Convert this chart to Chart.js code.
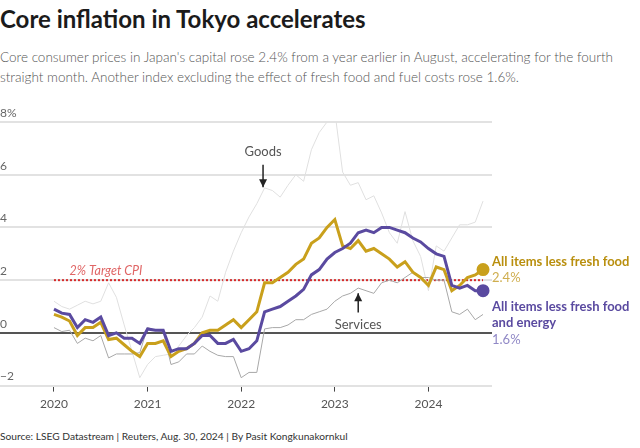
<!DOCTYPE html>
<html>
<head>
<meta charset="utf-8">
<script src="https://cdn.jsdelivr.net/npm/chart.js@4.4.1/dist/chart.umd.min.js"></script>
<style>
  body { margin: 0; width: 640px; height: 448px; background: #fff; position: relative; overflow: hidden; font-family: Lato, sans-serif; }
  h1 { position: absolute; left: 0; top: 4px; margin: 0; font-size: 24px; font-weight: 700; color: #1b1b1b; }
  .sub { position: absolute; left: 0; top: 47px; margin: 0; font-size: 13.5px; line-height: 20px; color: #555; font-weight: 300; white-space: nowrap; }
  .src { position: absolute; left: 0; top: 430px; font-size: 10.2px; color: #333; }
  canvas { position: absolute; left: 0; top: 100px; }
</style>
</head>
<body>
<h1>Core inflation in Tokyo accelerates</h1>
<p class="sub">Core consumer prices in Japan's capital rose 2.4% from a year earlier in August, accelerating for the fourth<br>straight month. Another index excluding the effect of fresh food and fuel costs rose 1.6%.</p>
<div class="src">Source: LSEG Datastream | Reuters, Aug. 30, 2024 | By Pasit Kongkunakornkul</div>
<canvas id="chart" width="640" height="320"></canvas>
<script>
// monthly, Jan 2020 .. Aug 2024 (index 0 = Jan 2020)
const yearTicks = [2020, 2021, 2022, 2023, 2024];
const yTicks = [-2, 0, 2, 4, 6, 8];

const lessFresh = [
  0.7, 0.6, 0.45, -0.1, 0.2, 0.2, 0.4, -0.25, -0.2, -0.45, -0.7, -0.9,
  -0.4, -0.4, -0.3, -0.9, -0.7, -0.6, -0.4, 0.0, 0.1, 0.1, 0.3, 0.5,
  0.2, 0.5, 0.8, 1.9, 1.9, 2.1, 2.3, 2.6, 2.8, 3.4, 3.6, 4.0,
  4.3, 3.3, 3.2, 3.5, 3.1, 3.2, 3.0, 2.8, 2.5, 2.7, 2.3, 2.1,
  1.8, 2.5, 2.4, 1.6, 1.8, 2.1, 2.2, 2.4
];
const lessFreshEnergy = [
  0.9, 0.75, 0.7, 0.2, 0.5, 0.4, 0.6, -0.1, 0.0, -0.2, -0.2, -0.4,
  0.15, 0.1, 0.1, -0.7, -0.6, -0.6, -0.4, -0.1, -0.1, -0.4, -0.4, -0.25,
  -0.7, -0.6, -0.3, 0.8, 0.9, 1.0, 1.2, 1.4, 1.65, 2.2, 2.4, 2.8,
  3.05, 3.2, 3.4, 3.8, 3.9, 3.8, 4.0, 4.0, 3.9, 3.8, 3.6, 3.45,
  3.2, 3.0, 2.9, 1.8, 1.7, 1.8, 1.6, 1.6
];
const services = [
  0.2, 0.05, 0.1, -0.4, -0.2, -0.3, -0.1, -0.95, -0.8, -0.8, -0.8, -0.75,
  0.2, 0.1, 0.05, -1.2, -1.1, -0.8, -0.8, -0.5, -0.7, -0.85, -0.9, -0.9,
  -1.7, -1.5, -1.5, 0.15, 0.2, 0.2, 0.3, 0.5, 0.5, 0.7, 0.8, 0.9,
  1.2, 1.4, 1.5, 1.7, 1.6, 1.5, 1.9, 2.0, 1.9, 2.1, 2.3, 2.1,
  2.1, 2.0, 2.0, 0.8, 0.7, 0.9, 0.5, 0.7
];
const goods = [
  1.2, 1.0, 0.9, 1.05, 1.2, 1.1, 1.2, 1.9, 1.35, 0.3, -0.7, -1.7,
  -1.2, -0.9, -0.85, -0.8, -0.5, -0.1, 0.2, 0.6, 1.4, 1.2, 2.3, 3.1,
  3.8, 4.4, 4.9, 5.5, 5.4, 5.15, 5.6, 6.0, 5.75, 6.95, 7.6, 8.0,
  8.4, 6.1, 5.6, 5.7, 5.05, 5.2, 4.55, 3.8, 3.4, 4.6, 3.5, 2.9,
  1.6, 3.3, 3.1, 3.6, 4.1, 4.1, 4.2, 5.0
];

const GOLD = '#c9a01c', PURPLE = '#5a4aa0';
const last = lessFresh.length - 1;
const pts = arr => arr.map((v, i) => ({x: i, y: v}));
const endDot = ctx => ctx.dataIndex === last ? 5 : 0;

// notes, arrows, target line and the end labels
const annotate = {
  id: 'annotate',
  beforeDatasetsDraw(chart) {
    const {ctx, scales: {x, y}} = chart;
    ctx.save();
    ctx.strokeStyle = '#d62a2a';
    ctx.lineWidth = 2;
    ctx.setLineDash([2, 2]);
    ctx.beginPath();
    ctx.moveTo(x.getPixelForValue(0), y.getPixelForValue(2));
    ctx.lineTo(x.getPixelForValue(last), y.getPixelForValue(2));
    ctx.stroke();
    ctx.setLineDash([]);
    ctx.font = 'italic 12.5px Lato';
    ctx.fillStyle = '#e06666';
    ctx.textBaseline = 'middle';
    ctx.fillText('2% Target CPI', x.getPixelForValue(2), y.getPixelForValue(2.35));
    ctx.restore();
  },
  afterDatasetsDraw(chart) {
    const {ctx, scales: {x, y}} = chart;
    ctx.save();
    const arrow = (px, y0, y1) => {
      ctx.strokeStyle = '#222';
      ctx.fillStyle = '#222';
      ctx.lineWidth = 1.5;
      ctx.beginPath();
      ctx.moveTo(px, y0);
      ctx.lineTo(px, y1);
      ctx.stroke();
      const d = y1 > y0 ? 1 : -1;
      ctx.beginPath();
      ctx.moveTo(px, y1);
      ctx.lineTo(px - 4, y1 - d * 8);
      ctx.lineTo(px + 4, y1 - d * 8);
      ctx.closePath();
      ctx.fill();
    };
    ctx.font = '13px Lato';
    ctx.textAlign = 'center';
    ctx.textBaseline = 'middle';
    const gx = x.getPixelForValue(26.8);
    ctx.fillStyle = '#555';
    ctx.fillText('Goods', gx, y.getPixelForValue(6.87));
    arrow(gx, y.getPixelForValue(6.38), y.getPixelForValue(5.52));
    const sx = x.getPixelForValue(39);
    ctx.fillStyle = '#555';
    ctx.fillText('Services', sx, y.getPixelForValue(0.29));
    arrow(sx, y.getPixelForValue(0.77), y.getPixelForValue(1.5));

    // end labels
    const lx = chart.chartArea.right;
    ctx.textAlign = 'left';
    const gy = y.getPixelForValue(lessFresh[last]);
    ctx.font = 'bold 13px Lato';
    ctx.fillStyle = '#b98f0e';
    ctx.fillText('All items less fresh food', lx, gy - 8);
    ctx.font = '13px Lato';
    ctx.fillStyle = '#cfae4f';
    ctx.fillText(lessFresh[last].toFixed(1) + '%', lx, gy + 8.5);
    const py = y.getPixelForValue(lessFreshEnergy[last]);
    ctx.font = 'bold 13px Lato';
    ctx.fillStyle = PURPLE;
    ctx.fillText('All items less fresh food', lx, py + 16);
    ctx.fillText('and energy', lx, py + 32.5);
    ctx.font = '13px Lato';
    ctx.fillStyle = '#9088c6';
    ctx.fillText(lessFreshEnergy[last].toFixed(1) + '%', lx, py + 49);
    ctx.restore();
  }
};

Chart.defaults.font.family = 'Lato';

new Chart(document.getElementById('chart'), {
  type: 'line',
  data: {
    datasets: [{
      label: 'All items less fresh food and energy',
      data: pts(lessFreshEnergy),
      borderColor: PURPLE,
      backgroundColor: PURPLE,
      borderWidth: 3,
      pointRadius: endDot,
      pointHoverRadius: 0,
      tension: 0
    }, {
      label: 'All items less fresh food',
      data: pts(lessFresh),
      borderColor: GOLD,
      backgroundColor: GOLD,
      borderWidth: 3,
      pointRadius: endDot,
      pointHoverRadius: 0,
      tension: 0
    }, {
      label: 'Services',
      data: pts(services),
      borderColor: '#a8a8a8',
      borderWidth: 1,
      pointRadius: 0,
      tension: 0
    }, {
      label: 'Goods',
      data: pts(goods),
      borderColor: '#e0e0e0',
      borderWidth: 1,
      pointRadius: 0,
      tension: 0
    }]
  },
  options: {
    responsive: false,
    animation: false,
    layout: { autoPadding: false, padding: { top: 22, right: 148, bottom: 4, left: 0 } },
    plugins: { legend: { display: false }, tooltip: { enabled: false } },
    scales: {
      x: {
        type: 'linear',
        min: -6.92,
        max: 56.15,
        afterBuildTicks: s => { s.ticks = yearTicks.map((yr, i) => ({ value: i * 12 })); },
        afterFit: s => { s.paddingLeft = 0; s.paddingRight = 0; },
        ticks: {
          autoSkip: false,
          maxRotation: 0,
          padding: 5,
          color: '#555',
          font: { size: 12 },
          callback: v => yearTicks[v / 12]
        },
        grid: { drawOnChartArea: false, tickLength: 6, tickColor: '#444', lineWidth: 1 },
        border: { display: false }
      },
      y: {
        min: -2,
        max: 8,
        afterBuildTicks: s => { s.ticks = yTicks.map(v => ({ value: v })); },
        afterFit: s => { s.width = 0; },
        ticks: {
          mirror: true,
          padding: 0,
          labelOffset: -9,
          color: '#666',
          font: { size: 12 },
          callback: v => v === 8 ? '8%' : v < 0 ? '\u2212' + Math.abs(v) : String(v)
        },
        grid: {
          drawTicks: false,
          lineWidth: 2,
          color: c => c.tick && c.tick.value === 0 ? '#555' : '#e2e2e2'
        },
        border: { display: false }
      }
    }
  },
  plugins: [annotate]
});
</script>
</body>
</html>
